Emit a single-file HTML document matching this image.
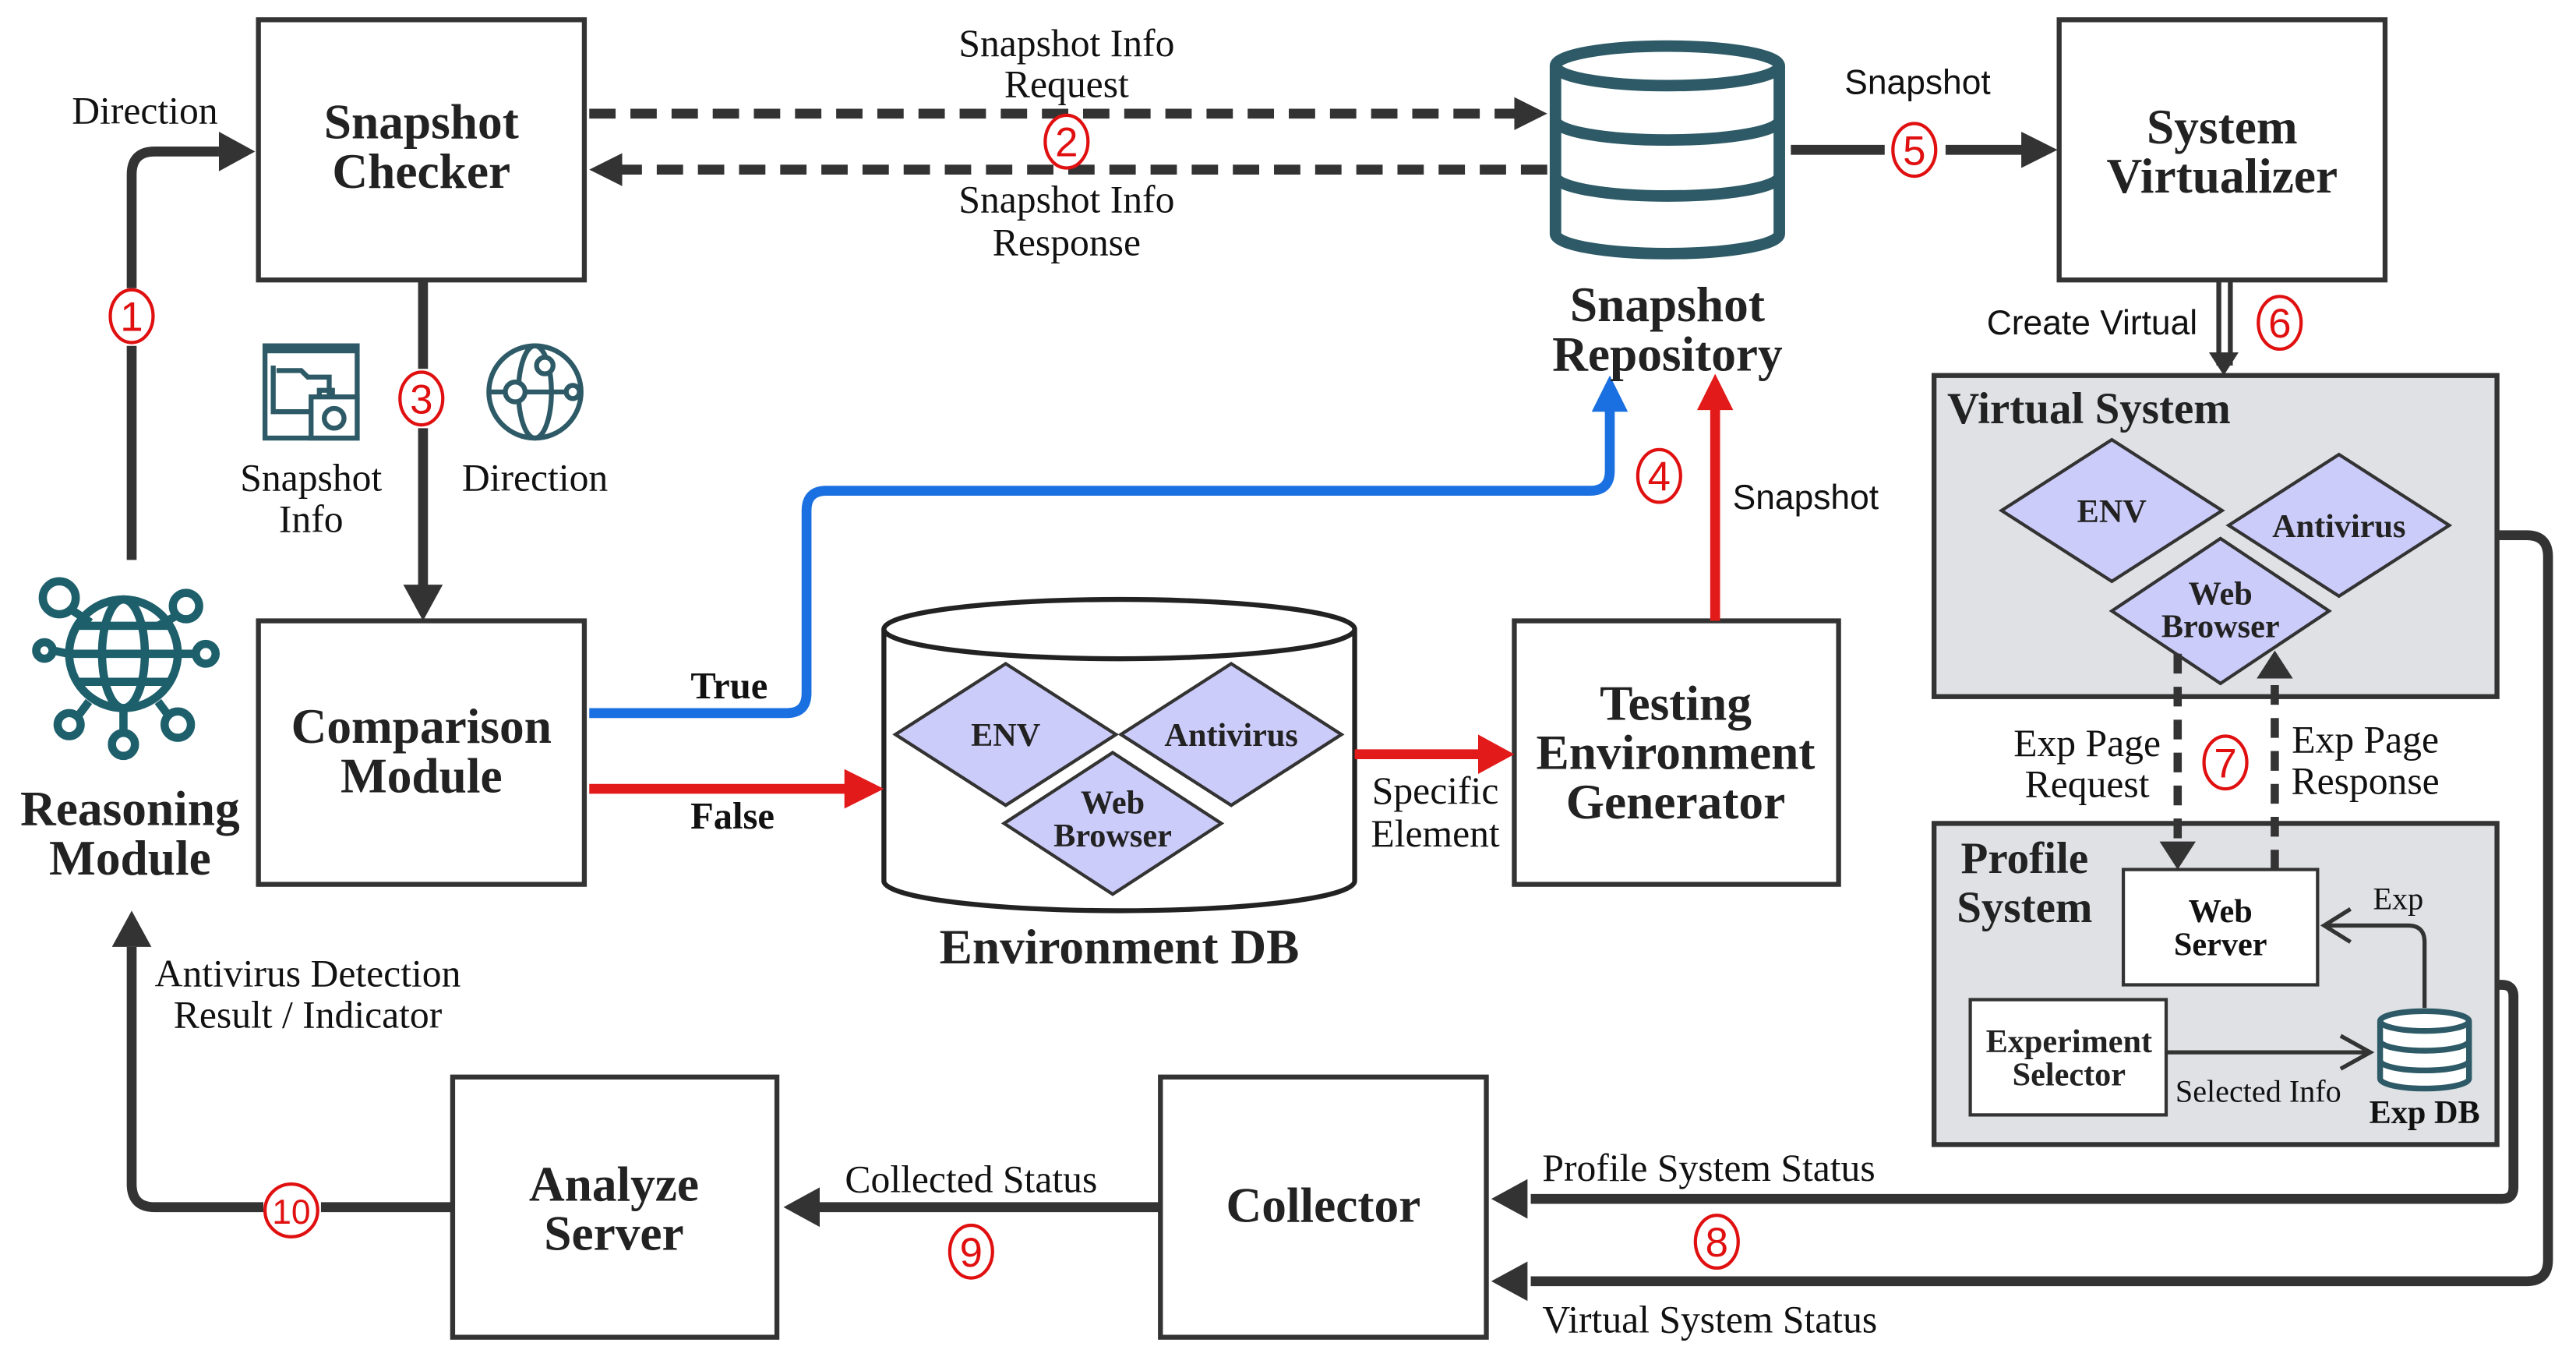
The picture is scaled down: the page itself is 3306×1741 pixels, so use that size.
<!DOCTYPE html>
<html><head><meta charset="utf-8"><style>
html,body{margin:0;padding:0;background:#fff;}
svg{display:block;}
.t{font-family:"Liberation Serif","DejaVu Serif",serif;font-weight:bold;fill:#222;text-anchor:middle;}
.l{font-family:"Liberation Serif","DejaVu Serif",serif;fill:#111;text-anchor:middle;}
.s{font-family:"Liberation Sans","DejaVu Sans",sans-serif;fill:#111;text-anchor:middle;}
.n{font-family:"Liberation Sans","DejaVu Sans",sans-serif;fill:#e01010;text-anchor:middle;}
</style></head><body>
<svg width="3306" height="1741" viewBox="0 0 1565 824" preserveAspectRatio="none" xmlns="http://www.w3.org/2000/svg">
<g fill="none" stroke="#333" stroke-width="3">
<rect x="157" y="12" width="198" height="158" fill="#fff"/>
<rect x="1251" y="12" width="198" height="158" fill="#fff"/>
<rect x="157" y="377" width="198" height="160" fill="#fff"/>
<rect x="920" y="377" width="197" height="160" fill="#fff"/>
<rect x="275" y="654" width="197" height="158" fill="#fff"/>
<rect x="705" y="654" width="198" height="158" fill="#fff"/>
<rect x="1175" y="228" width="342" height="195" fill="#dfe1e5"/>
<rect x="1175" y="500" width="342" height="195" fill="#dfe1e5"/>
<rect x="1290" y="528" width="118" height="70" fill="#fff" stroke-width="2"/>
<rect x="1197" y="607" width="119" height="70" fill="#fff" stroke-width="2"/>
</g>
<g fill="#ccccfa" stroke="#333" stroke-width="2">
<polygon points="1216,310 1283,267 1350,310 1283,353"/>
<polygon points="1354,319 1421,276 1488,319 1421,362"/>
<polygon points="1283,371 1349,327 1415,371 1349,415"/>
</g>
<path d="M537,382 L537,535 A143,18 0 0 0 823,535 L823,382" fill="#fff" stroke="#222" stroke-width="3"/>
<ellipse cx="680" cy="382" rx="143" ry="18" fill="#fff" stroke="#222" stroke-width="3"/>
<g fill="#ccccfa" stroke="#333" stroke-width="2">
<polygon points="544,446 611,403 678,446 611,489"/>
<polygon points="681,446 748,403 815,446 748,489"/>
<polygon points="610,500 676,457 742,500 676,543"/>
</g>
<g fill="none" stroke="#2d5a66" stroke-width="7">
<ellipse cx="1013" cy="40" rx="68" ry="12"/>
<path d="M945,40 V142 A68,12 0 0 0 1081,142 V40"/>
<path d="M945,73 A68,12 0 0 0 1081,73 M945,107 A68,12 0 0 0 1081,107"/>
</g>
<g fill="#fff" stroke="#2d5a66" stroke-width="3.5">
<path d="M1446,620 V655 A27,6 0 0 0 1500,655 V620"/>
<ellipse cx="1473" cy="620" rx="27" ry="6"/>
<path d="M1446,632 A27,6 0 0 0 1500,632 M1446,644 A27,6 0 0 0 1500,644" fill="none"/>
</g>
<g fill="none" stroke="#333" stroke-width="6">
<path d="M80,340 V210 M80,175 V106 Q80,92 94,92 H133"/>
<path d="M257,170 V224 M257,260 V357"/>
<path d="M1088,91 H1145 M1182,91 H1230"/>
<path d="M275,733 H195 M160,733 H94 Q80,733 80,719 V575"/>
<path d="M705,733 H498"/>
<path d="M1517,325 H1535 Q1548,325 1548,338 V765 Q1548,778 1535,778 H930"/>
<path d="M1517,598 H1520 Q1527,598 1527,605 V721 Q1527,728 1520,728 H930"/>
<path d="M1348,170 V222 M1355,170 V222" stroke-width="3"/>
</g>
<g fill="none" stroke="#333" stroke-width="6" stroke-dasharray="16,9">
<path d="M358,69 H922"/>
<path d="M940,103 H377"/>
</g>
<g fill="none" stroke="#333" stroke-width="5" stroke-dasharray="12,8">
<path d="M1323,397 V512"/>
<path d="M1382,528 V410"/>
</g>
<g fill="#333">
<polygon points="155,92 133,80 133,104"/>
<polygon points="257,377 245,355 269,355"/>
<polygon points="940,69 920,59 920,79"/>
<polygon points="358,103 378,93 378,113"/>
<polygon points="1250,91 1228,80 1228,102"/>
<polygon points="1351,228 1342,214 1360,214"/>
<polygon points="80,553 68,575 92,575"/>
<polygon points="476,733 498,721 498,745"/>
<polygon points="906,728 928,716 928,740"/>
<polygon points="906,778 928,766 928,790"/>
<polygon points="1323,528 1312,511 1334,511"/>
<polygon points="1382,395 1371,412 1393,412"/>
</g>
<g fill="none" stroke="#333" stroke-width="2.5">
<path d="M1473,612 V572 Q1473,562 1463,562 H1412 M1428,552 L1412,562 L1428,572"/>
<path d="M1316,639 H1440 M1422,629 L1440,639 L1422,649"/>
</g>
<path d="M358,433 H478 Q490,433 490,421 V310 Q490,298 502,298 H966 Q978,298 978,286 V248" fill="none" stroke="#1a70e0" stroke-width="6"/>
<polygon points="978,228 967,250 989,250" fill="#1a70e0"/>
<path d="M358,479 H515 M823,458 H900 M1042,377 V248" fill="none" stroke="#e31a1a" stroke-width="6"/>
<polygon points="537,479 513,467 513,491" fill="#e31a1a"/>
<polygon points="920,458 898,446 898,470" fill="#e31a1a"/>
<polygon points="1042,227 1031,249 1053,249" fill="#e31a1a"/>
<g fill="none" stroke="#2d5a66" stroke-width="3">
<rect x="161" y="210" width="56" height="56"/>
<path d="M161,212 H217" stroke-width="5"/>
<path d="M166,222 V250 H188 M168,225 H183 L187,229 H200 V245"/>
<rect x="189" y="241" width="28" height="25" fill="#fff"/>
<path d="M194,241 V237 H202 V241"/>
<circle cx="203" cy="254" r="6"/>
<circle cx="325" cy="238" r="28"/>
<ellipse cx="325" cy="238" rx="10" ry="28"/>
<path d="M297,238 H353"/>
<circle cx="313" cy="238" r="6" fill="#fff"/>
<circle cx="331" cy="222" r="5" fill="#fff"/>
<circle cx="348" cy="238" r="4" fill="#fff"/>
</g>
<g fill="none" stroke="#1d5f6b" stroke-width="5">
<path d="M43,370 L55,378 M107,374 L96,380 M32,395 L42,397 M119,397 L108,397 M102,434 L96,426 M48,434 L54,426 M75,445 V430"/>
<circle cx="75" cy="397" r="33"/>
<ellipse cx="75" cy="397" rx="13" ry="33"/>
<path d="M42,397 H108 M48,380 H102 M48,414 H102"/>
<circle cx="36" cy="363" r="10"/><circle cx="113" cy="368" r="8"/>
<circle cx="27" cy="395" r="5"/><circle cx="125" cy="397" r="6"/>
<circle cx="108" cy="440" r="8"/><circle cx="42" cy="440" r="7"/><circle cx="75" cy="452" r="7"/>
</g>
<g class="t" font-size="30">
<text x="256" y="84">Snapshot</text><text x="256" y="114">Checker</text>
<text x="1350" y="87">System</text><text x="1350" y="117">Virtualizer</text>
<text x="256" y="451">Comparison</text><text x="256" y="481">Module</text>
<text x="1018" y="437">Testing</text><text x="1018" y="467">Environment</text><text x="1018" y="497">Generator</text>
<text x="373" y="729">Analyze</text><text x="373" y="759">Server</text>
<text x="804" y="742">Collector</text>
<text x="1013" y="195">Snapshot</text><text x="1013" y="225">Repository</text>
<text x="79" y="501">Reasoning</text><text x="79" y="531">Module</text>
<text x="680" y="585">Environment DB</text>
</g>
<g class="t" font-size="27">
<text x="1183" y="257" text-anchor="start">Virtual System</text>
<text x="1230" y="530">Profile</text><text x="1230" y="560">System</text>
</g>
<g class="t" font-size="20" fill="#333">
<text x="1283" y="317">ENV</text><text x="1421" y="326">Antivirus</text>
<text x="1349" y="367">Web</text><text x="1349" y="387">Browser</text>
<text x="611" y="453">ENV</text><text x="748" y="453">Antivirus</text>
<text x="676" y="494">Web</text><text x="676" y="514">Browser</text>
<text x="1349" y="560" fill="#111">Web</text><text x="1349" y="580" fill="#111">Server</text>
<text x="1257" y="639">Experiment</text><text x="1257" y="659">Selector</text>
<text x="1473" y="682" fill="#111">Exp DB</text>
<text x="443" y="424" fill="#111" font-size="23">True</text>
<text x="445" y="503" fill="#111" font-size="23">False</text>
</g>
<g class="l" font-size="23.5">
<text x="88" y="75">Direction</text>
<text x="648" y="34">Snapshot Info</text><text x="648" y="59">Request</text>
<text x="648" y="129">Snapshot Info</text><text x="648" y="155">Response</text>
<text x="189" y="298">Snapshot</text><text x="189" y="323">Info</text>
<text x="325" y="298">Direction</text>
<text x="872" y="488">Specific</text><text x="872" y="514">Element</text>
<text x="1268" y="459">Exp Page</text><text x="1268" y="484">Request</text>
<text x="1437" y="457">Exp Page</text><text x="1437" y="482">Response</text>
<text x="187" y="599">Antivirus Detection</text><text x="187" y="624">Result / Indicator</text>
<text x="590" y="724">Collected Status</text>
<text x="937" y="717" text-anchor="start">Profile System Status</text>
<text x="937" y="809" text-anchor="start">Virtual System Status</text>
<text x="1457" y="552" font-size="19">Exp</text>
<text x="1372" y="669" font-size="19">Selected Info</text>
</g>
<g class="s" font-size="21">
<text x="1165" y="57">Snapshot</text>
<text x="1335" y="203" text-anchor="end">Create Virtual</text>
<text x="1097" y="309">Snapshot</text>
</g>
<g fill="#fff" stroke="#e01010" stroke-width="2">
<ellipse cx="80" cy="192" rx="13" ry="16"/><ellipse cx="648" cy="86" rx="13" ry="16"/><ellipse cx="256" cy="242" rx="13" ry="16"/>
<ellipse cx="1008" cy="289" rx="13" ry="16"/><ellipse cx="1163" cy="91" rx="13" ry="16"/><ellipse cx="1385" cy="196" rx="13" ry="16"/>
<ellipse cx="1352" cy="463" rx="13" ry="16"/><ellipse cx="1043" cy="754" rx="13" ry="16"/><ellipse cx="590" cy="760" rx="13" ry="16"/><ellipse cx="177" cy="735" rx="16" ry="16"/>
</g>
<g class="n" font-size="25">
<text x="80" y="201">1</text><text x="648" y="95">2</text><text x="256" y="251">3</text>
<text x="1008" y="298">4</text><text x="1163" y="100">5</text><text x="1385" y="205">6</text>
<text x="1352" y="472">7</text><text x="1043" y="763">8</text><text x="590" y="769">9</text><text x="177" y="743" font-size="21">10</text>
</g>
</svg>
</body></html>
